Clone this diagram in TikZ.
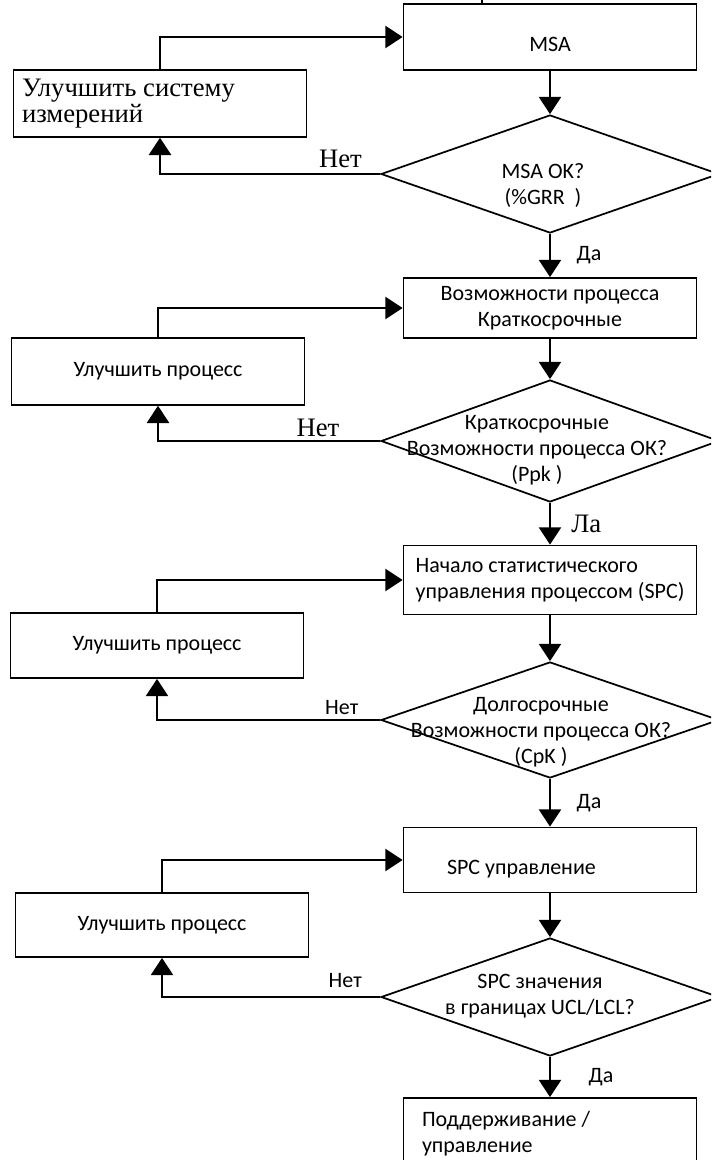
\documentclass[tikz,border=0pt]{standalone}
\usepackage{fontspec}
\setmainfont{Liberation Serif}
\setsansfont{Carlito}
\usetikzlibrary{arrows.meta, shapes.geometric}

\begin{document}
\begin{tikzpicture}[x=0.75pt, y=-0.75pt,
  box/.style={rectangle, draw, line width=1.3pt, minimum width=219.75pt, minimum height=#1,
    inner sep=0pt, align=center, font=\sffamily\fontsize{16.5}{19.5}\selectfont},
  box/.default=49.5pt,
  dia/.style={diamond, draw, line width=1.3pt, minimum width=253.5pt, minimum height=#1, inner sep=0pt},
  txt/.style={inner sep=0pt, align=center, font=\sffamily\fontsize{16.5}{19.5}\selectfont},
  rm/.style={inner sep=0pt, font=\rmfamily\fontsize{20}{20}\selectfont},
  e/.style={-{Triangle[length=13pt, width=16.5pt]}, line width=2pt},
  wire/.style={line width=2pt}]

  \path[use as bounding box] (0,0) rectangle (711,1160);
  \clip (0,0) rectangle (711,1160);

  % main column
  \node[box, text height=22pt, text depth=0pt] (msa) at (550,37) {MSA};
  \node[dia=88.5pt] (q1) at (550,174) {};
  \node[txt] (q1t) at (543,186) {MSA OK?\\(\%GRR~~)};
  \node[box=45pt] (cap) at (550,308) {Возможности процесса\\Краткосрочные};
  \node[dia=91.5pt] (q2) at (550,441) {};
  \node[txt] (q2t) at (537,450) {Краткосрочные\\Возможности процесса ОК?\\(Ppk~)};
  \node[box=51.75pt, align=flush left] (spc) at (550,580)
    {Начало статистического\\управления процессом (SPC)};
  \node[dia=87pt] (q3) at (550,720) {};
  \node[txt] (q3t) at (541,732) {Долгосрочные\\Возможности процесса ОК?\\(CpK~)};
  \node[box=48.75pt, text width=154.5pt, align=flush left, text height=21pt, text depth=0pt] (ctl) at (550,860) {SPC управление};
  \node[dia=88.5pt] (q4) at (550,997) {};
  \node[txt] (q4t) at (540,996) {SPC значения\\в границах UCL/LCL?};
  \node[box=54pt, text width=192pt, align=flush left] (keep) at (550,1134) {Поддерживание /\\управление};

  % improvement boxes
  \node[box=50pt, rm, text width=207pt, align=flush left] (fix1) at (160,103.5) {Улучшить систему\\измерений};
  \node[box=50pt] (fix2) at (158,371.5) {Улучшить процесс};
  \node[box=48.75pt] (fix3) at (157,645.5) {Улучшить процесс};
  \node[box=48pt] (fix4) at (162,925) {Улучшить процесс};

  \coordinate (in) at (482,0);
  \draw[wire] (in) -- (in |- msa.north);

  \draw[e] (msa) -- (q1);
  \draw[e] (q1) -- node[txt, right=19pt]{Да} (cap);
  \draw[e] (cap) -- (q2);
  \draw[e] (q2) -- node[rm, right=15pt]{Ла} (spc);
  \draw[e] (spc) -- (q3);
  \draw[e] (q3) -- node[txt, right=19pt]{Да} (ctl);
  \draw[e] (ctl) -- (q4);
  \draw[e] (q4) -- node[txt, right=28pt]{Да} (keep);

  % loops back
  \draw[e] (q1.west) -| node[rm, pos=0.09, above=4pt]{Нет} (fix1.south);
  \draw[e] (q2.west) -| node[rm, pos=0.14, above=2pt]{Нет} (fix2.south);
  \draw[e] (q3.west) -| node[txt, pos=0.086, above=3pt]{Нет} (fix3.south);
  \draw[e] (q4.west) -| node[txt, pos=0.08, above=6pt]{Нет} (fix4.south);
  \draw[e] (fix1.north) |- (msa.west);
  \draw[e] (fix2.north) |- (cap.west);
  \draw[e] (fix3.north) |- (spc.west);
  \draw[e] (fix4.north) |- (ctl.west);
\end{tikzpicture}
\end{document}
